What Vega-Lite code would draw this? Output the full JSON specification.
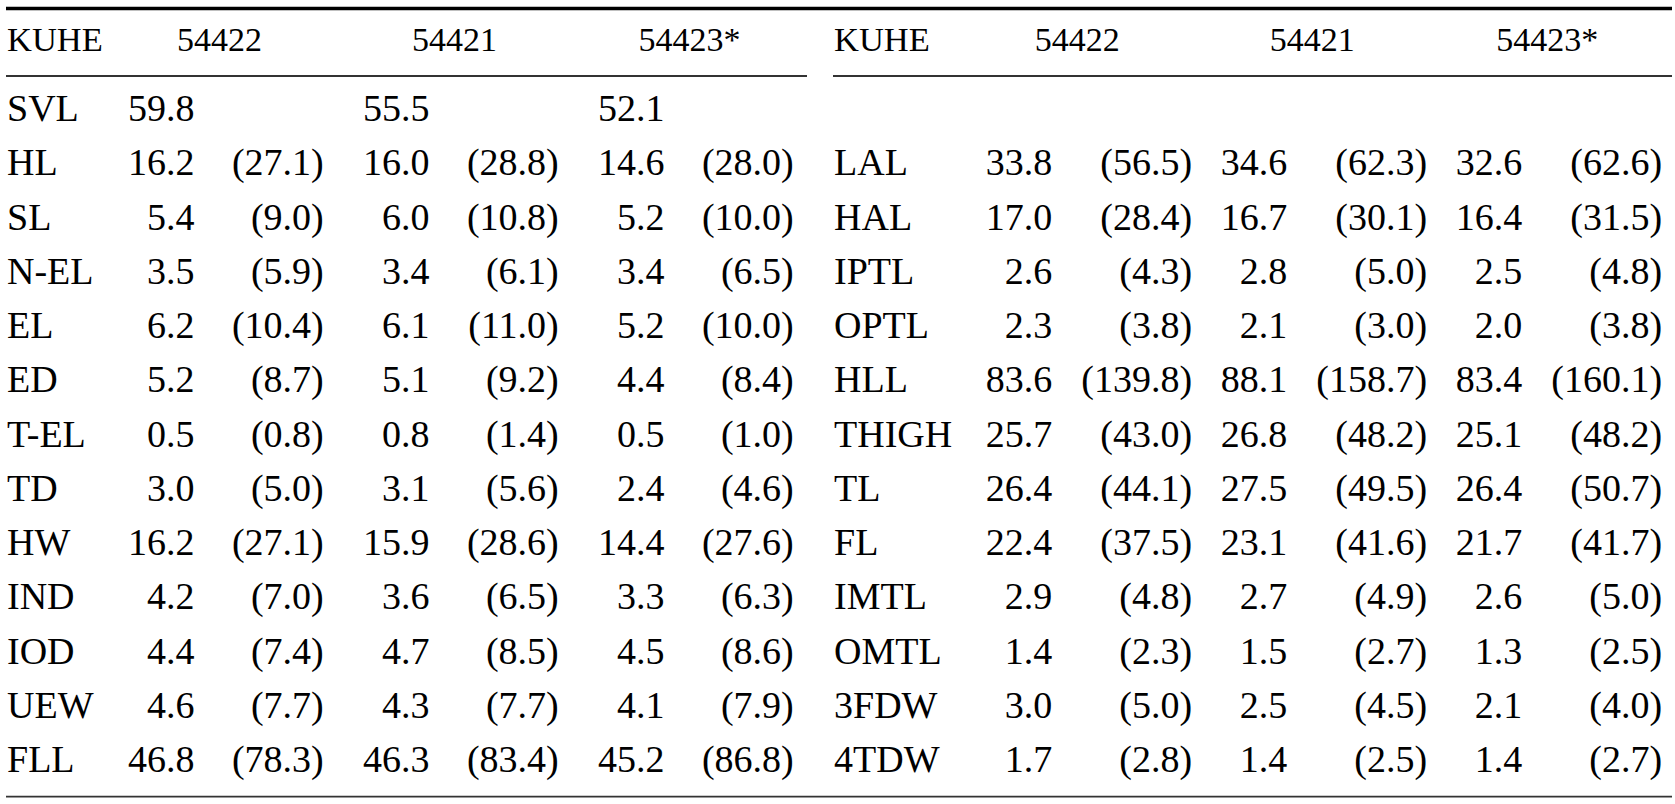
{
  "$schema": "https://vega.github.io/schema/vega-lite/v6.json",
  "width": 1675,
  "height": 804,
  "padding": 0,
  "autosize": "none",
  "background": "white",
  "config": {"view": {"stroke": null}, "text": {"font": "Liberation Serif", "color": "#000"}},
  "datasets": {
    "cells": [
      {"t":"L","n":1,"lab":"SVL","st":"54422","v":59.8},
      {"t":"L","n":1,"lab":"SVL","st":"54421","v":55.5},
      {"t":"L","n":1,"lab":"SVL","st":"54423*","v":52.1},
      {"t":"L","n":2,"lab":"HL","st":"54422","v":16.2,"p":27.1},
      {"t":"L","n":2,"lab":"HL","st":"54421","v":16.0,"p":28.8},
      {"t":"L","n":2,"lab":"HL","st":"54423*","v":14.6,"p":28.0},
      {"t":"L","n":3,"lab":"SL","st":"54422","v":5.4,"p":9.0},
      {"t":"L","n":3,"lab":"SL","st":"54421","v":6.0,"p":10.8},
      {"t":"L","n":3,"lab":"SL","st":"54423*","v":5.2,"p":10.0},
      {"t":"L","n":4,"lab":"N-EL","st":"54422","v":3.5,"p":5.9},
      {"t":"L","n":4,"lab":"N-EL","st":"54421","v":3.4,"p":6.1},
      {"t":"L","n":4,"lab":"N-EL","st":"54423*","v":3.4,"p":6.5},
      {"t":"L","n":5,"lab":"EL","st":"54422","v":6.2,"p":10.4},
      {"t":"L","n":5,"lab":"EL","st":"54421","v":6.1,"p":11.0},
      {"t":"L","n":5,"lab":"EL","st":"54423*","v":5.2,"p":10.0},
      {"t":"L","n":6,"lab":"ED","st":"54422","v":5.2,"p":8.7},
      {"t":"L","n":6,"lab":"ED","st":"54421","v":5.1,"p":9.2},
      {"t":"L","n":6,"lab":"ED","st":"54423*","v":4.4,"p":8.4},
      {"t":"L","n":7,"lab":"T-EL","st":"54422","v":0.5,"p":0.8},
      {"t":"L","n":7,"lab":"T-EL","st":"54421","v":0.8,"p":1.4},
      {"t":"L","n":7,"lab":"T-EL","st":"54423*","v":0.5,"p":1.0},
      {"t":"L","n":8,"lab":"TD","st":"54422","v":3.0,"p":5.0},
      {"t":"L","n":8,"lab":"TD","st":"54421","v":3.1,"p":5.6},
      {"t":"L","n":8,"lab":"TD","st":"54423*","v":2.4,"p":4.6},
      {"t":"L","n":9,"lab":"HW","st":"54422","v":16.2,"p":27.1},
      {"t":"L","n":9,"lab":"HW","st":"54421","v":15.9,"p":28.6},
      {"t":"L","n":9,"lab":"HW","st":"54423*","v":14.4,"p":27.6},
      {"t":"L","n":10,"lab":"IND","st":"54422","v":4.2,"p":7.0},
      {"t":"L","n":10,"lab":"IND","st":"54421","v":3.6,"p":6.5},
      {"t":"L","n":10,"lab":"IND","st":"54423*","v":3.3,"p":6.3},
      {"t":"L","n":11,"lab":"IOD","st":"54422","v":4.4,"p":7.4},
      {"t":"L","n":11,"lab":"IOD","st":"54421","v":4.7,"p":8.5},
      {"t":"L","n":11,"lab":"IOD","st":"54423*","v":4.5,"p":8.6},
      {"t":"L","n":12,"lab":"UEW","st":"54422","v":4.6,"p":7.7},
      {"t":"L","n":12,"lab":"UEW","st":"54421","v":4.3,"p":7.7},
      {"t":"L","n":12,"lab":"UEW","st":"54423*","v":4.1,"p":7.9},
      {"t":"L","n":13,"lab":"FLL","st":"54422","v":46.8,"p":78.3},
      {"t":"L","n":13,"lab":"FLL","st":"54421","v":46.3,"p":83.4},
      {"t":"L","n":13,"lab":"FLL","st":"54423*","v":45.2,"p":86.8},
      {"t":"R","n":2,"lab":"LAL","st":"54422","v":33.8,"p":56.5},
      {"t":"R","n":2,"lab":"LAL","st":"54421","v":34.6,"p":62.3},
      {"t":"R","n":2,"lab":"LAL","st":"54423*","v":32.6,"p":62.6},
      {"t":"R","n":3,"lab":"HAL","st":"54422","v":17.0,"p":28.4},
      {"t":"R","n":3,"lab":"HAL","st":"54421","v":16.7,"p":30.1},
      {"t":"R","n":3,"lab":"HAL","st":"54423*","v":16.4,"p":31.5},
      {"t":"R","n":4,"lab":"IPTL","st":"54422","v":2.6,"p":4.3},
      {"t":"R","n":4,"lab":"IPTL","st":"54421","v":2.8,"p":5.0},
      {"t":"R","n":4,"lab":"IPTL","st":"54423*","v":2.5,"p":4.8},
      {"t":"R","n":5,"lab":"OPTL","st":"54422","v":2.3,"p":3.8},
      {"t":"R","n":5,"lab":"OPTL","st":"54421","v":2.1,"p":3.0},
      {"t":"R","n":5,"lab":"OPTL","st":"54423*","v":2.0,"p":3.8},
      {"t":"R","n":6,"lab":"HLL","st":"54422","v":83.6,"p":139.8},
      {"t":"R","n":6,"lab":"HLL","st":"54421","v":88.1,"p":158.7},
      {"t":"R","n":6,"lab":"HLL","st":"54423*","v":83.4,"p":160.1},
      {"t":"R","n":7,"lab":"THIGH","st":"54422","v":25.7,"p":43.0},
      {"t":"R","n":7,"lab":"THIGH","st":"54421","v":26.8,"p":48.2},
      {"t":"R","n":7,"lab":"THIGH","st":"54423*","v":25.1,"p":48.2},
      {"t":"R","n":8,"lab":"TL","st":"54422","v":26.4,"p":44.1},
      {"t":"R","n":8,"lab":"TL","st":"54421","v":27.5,"p":49.5},
      {"t":"R","n":8,"lab":"TL","st":"54423*","v":26.4,"p":50.7},
      {"t":"R","n":9,"lab":"FL","st":"54422","v":22.4,"p":37.5},
      {"t":"R","n":9,"lab":"FL","st":"54421","v":23.1,"p":41.6},
      {"t":"R","n":9,"lab":"FL","st":"54423*","v":21.7,"p":41.7},
      {"t":"R","n":10,"lab":"IMTL","st":"54422","v":2.9,"p":4.8},
      {"t":"R","n":10,"lab":"IMTL","st":"54421","v":2.7,"p":4.9},
      {"t":"R","n":10,"lab":"IMTL","st":"54423*","v":2.6,"p":5.0},
      {"t":"R","n":11,"lab":"OMTL","st":"54422","v":1.4,"p":2.3},
      {"t":"R","n":11,"lab":"OMTL","st":"54421","v":1.5,"p":2.7},
      {"t":"R","n":11,"lab":"OMTL","st":"54423*","v":1.3,"p":2.5},
      {"t":"R","n":12,"lab":"3FDW","st":"54422","v":3.0,"p":5.0},
      {"t":"R","n":12,"lab":"3FDW","st":"54421","v":2.5,"p":4.5},
      {"t":"R","n":12,"lab":"3FDW","st":"54423*","v":2.1,"p":4.0},
      {"t":"R","n":13,"lab":"4TDW","st":"54422","v":1.7,"p":2.8},
      {"t":"R","n":13,"lab":"4TDW","st":"54421","v":1.4,"p":2.5},
      {"t":"R","n":13,"lab":"4TDW","st":"54423*","v":1.4,"p":2.7}
    ],
    "heads": [
      {"t":"L","st":"54422"},{"t":"L","st":"54421"},{"t":"L","st":"54423*"},
      {"t":"R","st":"54422"},{"t":"R","st":"54421"},{"t":"R","st":"54423*"}
    ]
  },
  "layer": [
    {
      "data": {"values": [{}]},
      "mark": {"type": "rule", "strokeWidth": 3.5, "color": "#000"},
      "encoding": {
        "x": {"datum": -1, "type": "quantitative", "axis": null, "scale": {"domain": [-1,0,1,2,3,4,5,6,6.5,6.7,7,8,9,10,11,12,13,14], "range": [6,7,194.4,323.7,429.4,558.7,664.4,793.7,807,833,834,1052.2,1192.1,1287.2,1427.1,1522.2,1662.1,1672], "zero": false, "nice": false}},
        "x2": {"datum": 14},
        "y": {"datum": -1, "type": "quantitative", "axis": null, "scale": {"domain": [-1,0,0.5,1,13,14], "range": [8.5,50.7,76,121,772,796.7], "zero": false, "nice": false}}
      }
    },
    {
      "data": {"values": [{}]},
      "mark": {"type": "rule", "strokeWidth": 1.8, "color": "#333"},
      "encoding": {
        "x": {"datum": -1, "type": "quantitative"},
        "x2": {"datum": 6.5},
        "y": {"datum": 0.5, "type": "quantitative"}
      }
    },
    {
      "data": {"values": [{}]},
      "mark": {"type": "rule", "strokeWidth": 1.8, "color": "#333"},
      "encoding": {
        "x": {"datum": 6.7, "type": "quantitative"},
        "x2": {"datum": 14},
        "y": {"datum": 0.5, "type": "quantitative"}
      }
    },
    {
      "data": {"values": [{}]},
      "mark": {"type": "rule", "strokeWidth": 1.8, "color": "#333"},
      "encoding": {
        "x": {"datum": -1, "type": "quantitative"},
        "x2": {"datum": 14},
        "y": {"datum": 14, "type": "quantitative"}
      }
    },
    {
      "data": {"values": [{"t":"L","h":"KUHE"},{"t":"R","h":"KUHE"}]},
      "transform": [{"calculate": "datum.t === 'R' ? 7 : 0", "as": "cl"}],
      "mark": {"type": "text", "align": "left", "baseline": "alphabetic", "fontSize": 34.5},
      "encoding": {
        "x": {"field": "cl", "type": "quantitative"},
        "y": {"datum": 0, "type": "quantitative"},
        "text": {"field": "h"}
      }
    },
    {
      "data": {"name": "heads"},
      "transform": [{"calculate": "(datum.t === 'R' ? 7 : 0) + indexof(['54422','54421','54423*'], datum.st) * 2 + 1", "as": "ci"}],
      "mark": {"type": "text", "align": "center", "baseline": "alphabetic", "fontSize": 34, "dx": 25},
      "encoding": {
        "x": {"field": "ci", "type": "quantitative"},
        "y": {"datum": 0, "type": "quantitative"},
        "text": {"field": "st"}
      }
    },
    {
      "data": {"name": "cells"},
      "transform": [
        {"filter": "datum.st === '54422'"},
        {"calculate": "datum.t === 'R' ? 7 : 0", "as": "cl"}
      ],
      "mark": {"type": "text", "align": "left", "baseline": "alphabetic", "fontSize": 38},
      "encoding": {
        "x": {"field": "cl", "type": "quantitative"},
        "y": {"field": "n", "type": "quantitative"},
        "text": {"field": "lab"}
      }
    },
    {
      "data": {"name": "cells"},
      "transform": [{"calculate": "(datum.t === 'R' ? 7 : 0) + indexof(['54422','54421','54423*'], datum.st) * 2 + 1", "as": "ci"}],
      "mark": {"type": "text", "align": "right", "baseline": "alphabetic", "fontSize": 38},
      "encoding": {
        "x": {"field": "ci", "type": "quantitative"},
        "y": {"field": "n", "type": "quantitative"},
        "text": {"field": "v", "format": ".1f"}
      }
    },
    {
      "data": {"name": "cells"},
      "transform": [
        {"filter": "isValid(datum.p)"},
        {"calculate": "(datum.t === 'R' ? 7 : 0) + indexof(['54422','54421','54423*'], datum.st) * 2 + 2", "as": "cp"},
        {"calculate": "'(' + format(datum.p, '.1f') + ')'", "as": "pt"}
      ],
      "mark": {"type": "text", "align": "right", "baseline": "alphabetic", "fontSize": 38},
      "encoding": {
        "x": {"field": "cp", "type": "quantitative"},
        "y": {"field": "n", "type": "quantitative"},
        "text": {"field": "pt"}
      }
    }
  ]
}
